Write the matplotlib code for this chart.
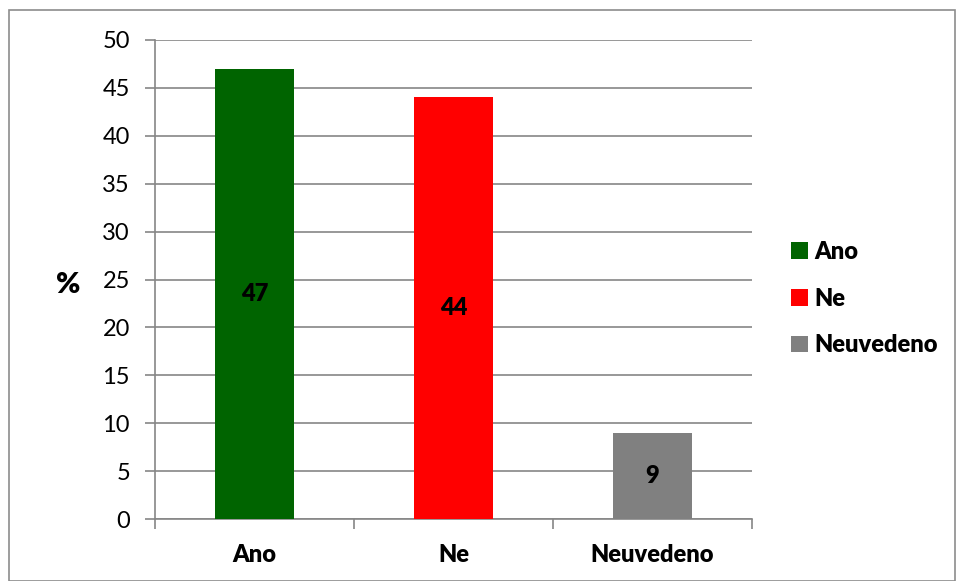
import matplotlib.pyplot as plt
from matplotlib.patches import Rectangle

# Survey answers (percent)
categories = ['Ano', 'Ne', 'Neuvedeno']
values = [47, 44, 9]
colors = ['#006400', '#ff0000', '#808080']

plt.rcParams['font.family'] = ['Lato', 'DejaVu Sans']

fig = plt.figure(figsize=(9.56, 5.81), dpi=100)
ax = fig.add_axes([155 / 956, 62 / 581, 597 / 956, 479 / 581])

# Outer chart border
fig.patches.append(Rectangle((9 / 956, 0.5 / 581), 946 / 956, 570.5 / 581,
                             transform=fig.transFigure, fill=False,
                             edgecolor='#8c8c8c', linewidth=1.2))

x = range(len(categories))
for i, (cat, val, col) in enumerate(zip(categories, values, colors)):
    bars = ax.bar(i, val, width=0.4, color=col, label=cat, zorder=3)
    ax.bar_label(bars, labels=[str(val)], label_type='center',
                 fontsize=17, fontweight='heavy', color='black')

ax.set_xlim(-0.5, 2.5)
ax.set_ylim(0, 50)
ax.set_yticks(range(0, 51, 5))
ax.grid(axis='y', color='#868686', linewidth=1.2, zorder=0)
ax.set_axisbelow(True)

ax.set_xticks(list(x))
ax.set_xticklabels(categories, fontsize=17, fontweight='heavy')
ax.tick_params(axis='x', length=0, pad=18)
ax.set_xticks([-0.5, 0.5, 1.5, 2.5], minor=True)
ax.tick_params(axis='x', which='minor', length=7, width=1.2, color='#868686')
ax.tick_params(axis='y', length=7, width=1.2, color='#868686', labelsize=17, pad=11)

for side in ['top', 'right']:
    ax.spines[side].set_visible(False)
for side in ['left', 'bottom']:
    ax.spines[side].set_color('#868686')
    ax.spines[side].set_linewidth(1.2)

ax.set_ylabel('%', fontsize=21, fontweight='heavy', rotation=0, ha='center', va='center')
ax.yaxis.set_label_coords(-0.146, 0.488)

ax.legend(loc='center left', bbox_to_anchor=(1.03, 0.46), frameon=False,
          prop={'size': 17, 'weight': 'heavy'}, handlelength=0.7, handleheight=0.7,
          handletextpad=0.3, labelspacing=1.05)

fig.savefig('out.png', dpi=100)
